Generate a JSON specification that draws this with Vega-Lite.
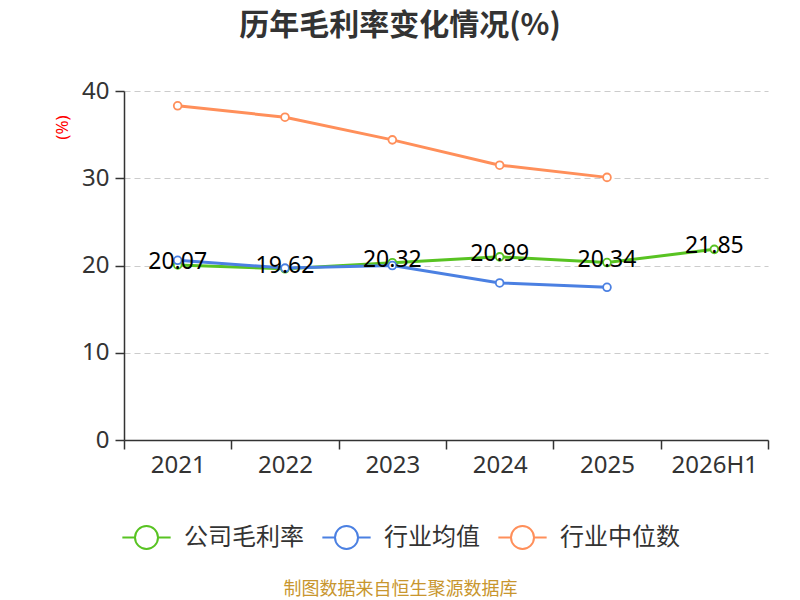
{
  "$schema": "https://vega.github.io/schema/vega-lite/v6.json",
  "autosize": {"type": "none"},
  "width": 644,
  "height": 349,
  "padding": {"left": 124, "top": 91, "right": 32, "bottom": 160},
  "background": "white",
  "config": {
    "font": "Noto Sans, Noto Sans CJK SC",
    "view": {"stroke": null}
  },
  "title": {
    "text": "历年毛利率变化情况(%)",
    "font": "Noto Sans CJK SC",
    "fontSize": 30,
    "fontWeight": "bold",
    "color": "#333333",
    "anchor": "middle",
    "dx": -46,
    "offset": 38
  },
  "data": {
    "values": [
      {"year": "2021", "series": "公司毛利率", "value": 20.07},
      {"year": "2022", "series": "公司毛利率", "value": 19.62},
      {"year": "2023", "series": "公司毛利率", "value": 20.32},
      {"year": "2024", "series": "公司毛利率", "value": 20.99},
      {"year": "2025", "series": "公司毛利率", "value": 20.34},
      {"year": "2026H1", "series": "公司毛利率", "value": 21.85},
      {"year": "2021", "series": "行业均值", "value": 20.6},
      {"year": "2022", "series": "行业均值", "value": 19.7},
      {"year": "2023", "series": "行业均值", "value": 20.0},
      {"year": "2024", "series": "行业均值", "value": 18.0},
      {"year": "2025", "series": "行业均值", "value": 17.5},
      {"year": "2021", "series": "行业中位数", "value": 38.3},
      {"year": "2022", "series": "行业中位数", "value": 37.0},
      {"year": "2023", "series": "行业中位数", "value": 34.4},
      {"year": "2024", "series": "行业中位数", "value": 31.5},
      {"year": "2025", "series": "行业中位数", "value": 30.1}
    ]
  },
  "encoding": {
    "x": {
      "field": "year",
      "type": "ordinal",
      "sort": null,
      "scale": {"type": "band", "paddingInner": 0, "paddingOuter": 0},
      "axis": {
        "title": "制图数据来自恒生聚源数据库",
        "titleFont": "Noto Sans CJK SC",
        "titleColor": "#c8962e",
        "titleFontSize": 18,
        "titleFontWeight": "normal",
        "titleX": 276,
        "titleY": 149,
        "titleBaseline": "middle",
        "labelAngle": 0,
        "labelFontSize": 24,
        "labelColor": "#333333",
        "labelPadding": 4,
        "tickBand": "extent",
        "tickSize": 9,
        "tickColor": "#333333",
        "tickWidth": 1.5,
        "domainColor": "#333333",
        "domainWidth": 1.5,
        "grid": false
      }
    },
    "y": {
      "field": "value",
      "type": "quantitative",
      "scale": {"domain": [0, 40], "nice": false},
      "axis": {
        "values": [0, 10, 20, 30, 40],
        "title": "(%)",
        "titleColor": "#ff0000",
        "titleFontSize": 17,
        "titleFontWeight": "normal",
        "titleX": -62,
        "titleY": 36,
        "titleAngle": -90,
        "titleAlign": "center",
        "titleBaseline": "middle",
        "labelFontSize": 24,
        "labelColor": "#333333",
        "labelPadding": 6,
        "tickSize": 9,
        "tickColor": "#333333",
        "tickWidth": 1.5,
        "domainColor": "#333333",
        "domainWidth": 1.5,
        "grid": true,
        "gridColor": "#cccccc",
        "gridDash": [6, 4],
        "gridWidth": 1.2
      }
    },
    "color": {
      "field": "series",
      "type": "nominal",
      "scale": {
        "domain": ["公司毛利率", "行业均值", "行业中位数"],
        "range": ["#58c322", "#4b80e2", "#ff8f5a"]
      },
      "legend": {
        "title": null,
        "orient": "none",
        "direction": "horizontal",
        "legendX": 10,
        "legendY": 434,
        "symbolType": "M-2.1,0L-1,0M1,0L2.1,0M1,0A1,1,0,1,1,-1,0A1,1,0,1,1,1,0",
        "symbolSize": 529,
        "symbolStrokeWidth": 2,
        "symbolFillColor": "white",
        "labelFont": "Noto Sans CJK SC",
        "labelFontSize": 24,
        "labelColor": "#333333",
        "labelOffset": 25,
        "columnPadding": 14
      }
    }
  },
  "layer": [
    {
      "mark": {"type": "line", "strokeWidth": 3}
    },
    {
      "mark": {"type": "point", "filled": false, "fill": "white", "fillOpacity": 1, "size": 60, "strokeWidth": 1.8, "opacity": 1},
      "encoding": {"shape": {"value": "circle"}}
    },
    {
      "transform": [{"filter": "datum.series === '公司毛利率'"}],
      "mark": {"type": "text", "fontSize": 23, "baseline": "middle", "dy": -3},
      "encoding": {
        "text": {"field": "value", "type": "quantitative", "format": ".2f"},
        "color": {"value": "#000000"}
      }
    }
  ]
}
